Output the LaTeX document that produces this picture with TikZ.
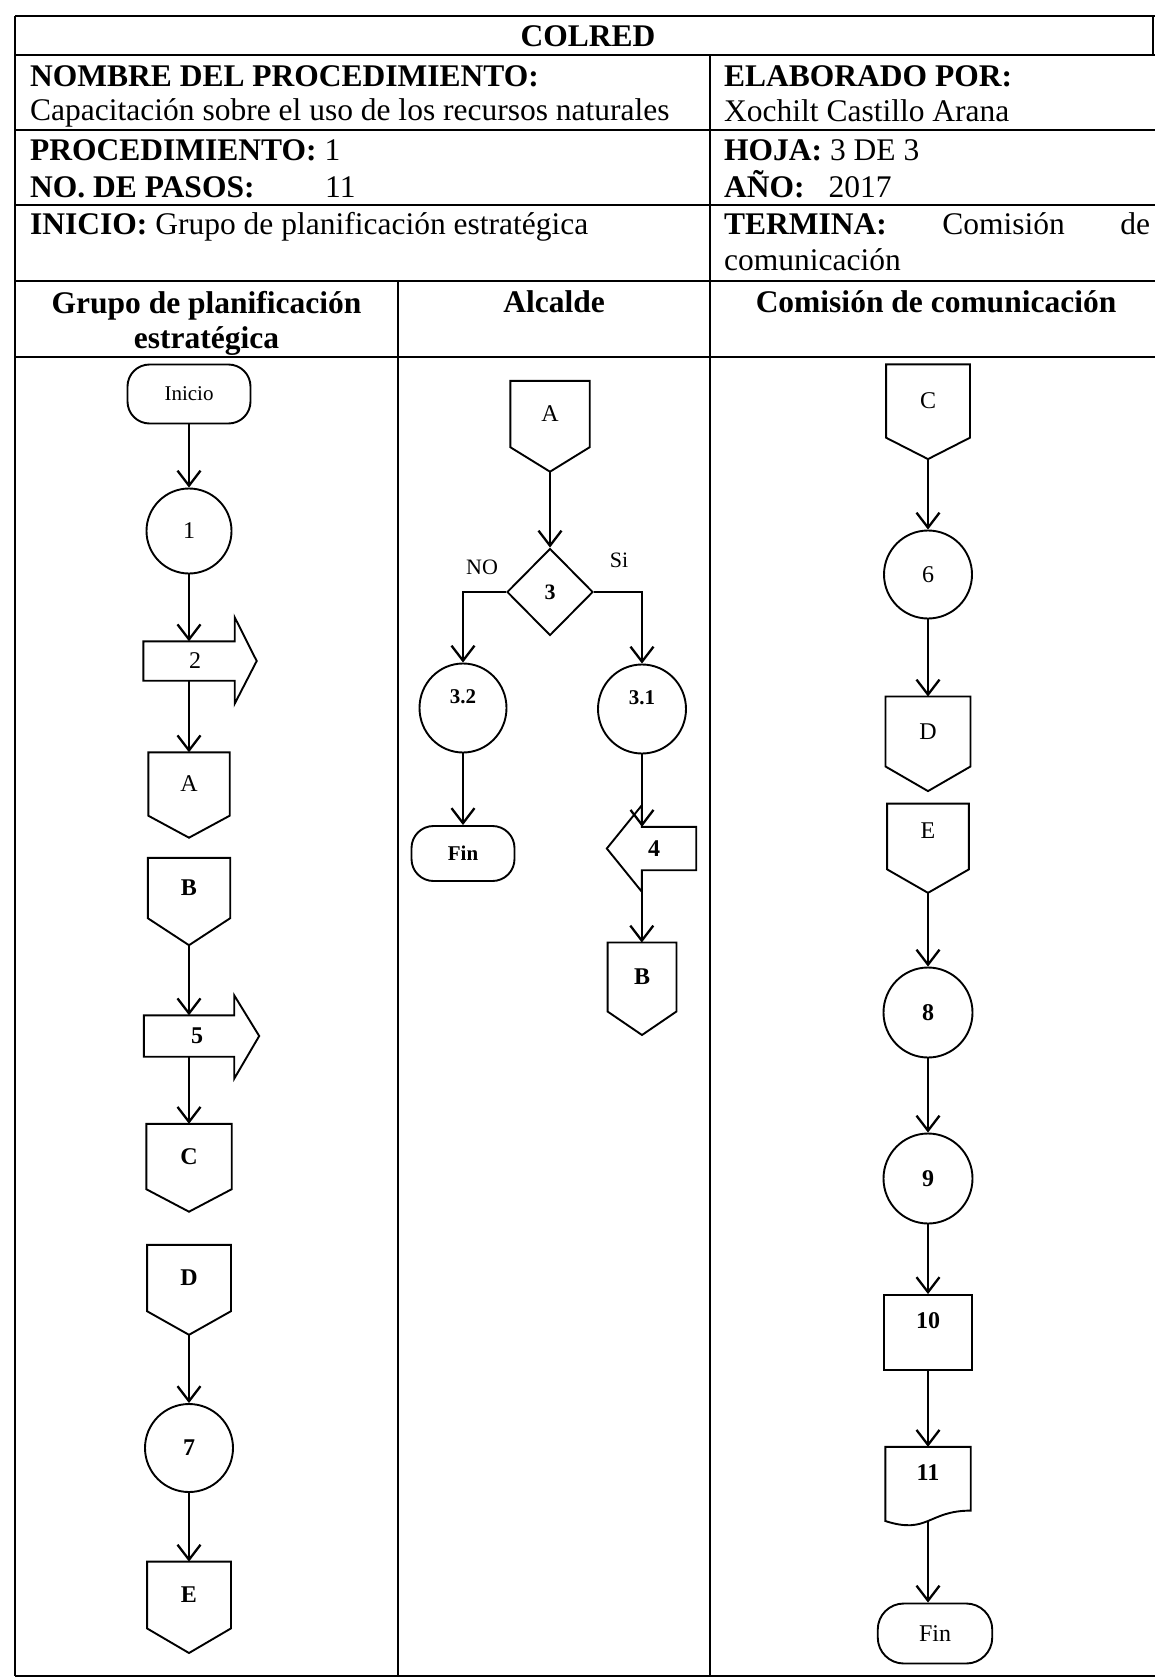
\documentclass[tikz,border=0pt]{standalone}
\usepackage{fontspec}
\setmainfont{Liberation Serif}
\usetikzlibrary{shapes.geometric,arrows.meta,calc}
\newcommand{\offpg}[7]{%
  \node[lbl, minimum width=#5pt, minimum height=#6pt] (#1) at (#2,#3) {#4};
  \draw[shp] (#1.north west) -- (#1.north east) -- (#1.south east)
    -- ($(#1.south)+(0,#7)$) coordinate (#1-tip) -- (#1.south west) -- cycle;}
\begin{document}
\begin{tikzpicture}[x=1pt,y=-1pt,
  tline/.style={line width=2pt},
  shp/.style={draw, line width=1.9pt},
  arr/.style={line width=2.3pt,-{Straight Barb[length=15pt,width=23pt]}},
  lbl/.style={inner sep=0pt, font=\fontsize{24}{26}\selectfont},
  hdr/.style={inner sep=0pt, anchor=base west, font=\fontsize{31.5}{36}\selectfont},
  colh/.style={inner sep=0pt, anchor=base, font=\fontsize{31.5}{36}\selectfont\bfseries},
  term/.style={shp, lbl, rounded corners=22pt},
  circ/.style={shp, lbl, ellipse},
]
\useasboundingbox (0,0) rectangle (1155,1678);
\fill[white] (0,0) rectangle (1155,1678);

% ---------- table ----------
\draw[tline] (15,16.5) -- (1155,16.5);
\draw[tline] (1153,16.5) -- (1153,55);
\draw[tline] (15,55) -- (1155,55);
\draw[tline] (15,130) -- (1155,130);
\draw[tline] (15,205) -- (1155,205);
\draw[tline] (15,281) -- (1155,281);
\draw[tline] (15,357) -- (1155,357);
\draw[tline] (15,1676) -- (1155,1676);
\draw[tline] (15,16.5) -- (15,1676);
\draw[tline] (710,55) -- (710,1676);
\draw[tline] (398,281) -- (398,1676);

% ---------- header texts ----------
\node[hdr, anchor=base, font=\fontsize{31.5}{36}\selectfont\bfseries] (t0) at (588,47) {COLRED};
\node[hdr] (t1) at (30,86) {\textbf{NOMBRE DEL PROCEDIMIENTO:}};
\node[hdr] (t2) at (30,120) {Capacitación sobre el uso de los recursos naturales};
\node[hdr] (t3) at (30,160) {\textbf{PROCEDIMIENTO:} 1};
\node[hdr] (t4) at (30,197) {\textbf{NO. DE PASOS:}};
\node[hdr] (t5) at (325,197) {11};
\node[hdr] (t6) at (30,234) {\textbf{INICIO:} Grupo de planificación estratégica};
\node[hdr] (t7) at (724,86) {\textbf{ELABORADO POR:}};
\node[hdr] (t8) at (724,121) {Xochilt Castillo Arana};
\node[hdr] (t9) at (724,160) {\textbf{HOJA:} 3 DE 3};
\node[hdr] (t10) at (724,197) {\textbf{AÑO:}\hspace{24pt}2017};
\node[hdr] (t11) at (724,234) {\makebox[426pt]{\textbf{TERMINA:}\hfill Comisión\hfill de}};
\node[hdr] (t12) at (724,270) {comunicación};

\node[colh] (g1) at (206.5,313) {Grupo de planificación};
\node[colh] (g2) at (206.5,348) {estratégica};
\node[colh] (g3) at (554,312) {Alcalde};
\node[colh] (g4) at (936,312) {Comisión de comunicación};

% ---------- Grupo de planificacion estrategica ----------
\node[term, minimum width=123pt, minimum height=59pt, font=\fontsize{21}{24}\selectfont] (ini) at (189,394) {Inicio};
\node[circ, minimum width=85pt, minimum height=85pt] (c1) at (189,531) {1};
\node[lbl, minimum width=91pt, minimum height=39pt] (s2) at (189,661) {\hspace*{12pt}2};
\draw[shp] (s2.north west) -- (s2.north east) -- ++(0,-24) -- ($(s2.east)+(22,0)$)
  -- ($(s2.south east)+(0,23)$) -- (s2.south east) -- (s2.south west) -- cycle;
\offpg{a1}{189}{784}{A}{81}{63}{22}
\offpg{b1}{189}{888}{\bfseries B}{82}{60}{27}
\node[lbl, minimum width=90pt, minimum height=41pt] (s5) at (189,1036) {\hspace*{16pt}\bfseries 5};
\draw[shp] (s5.north west) -- (s5.north east) -- ++(0,-20) -- ($(s5.east)+(25,0)$)
  -- ($(s5.south east)+(0,22)$) -- (s5.south east) -- (s5.south west) -- cycle;
\offpg{cc1}{189}{1156.5}{\bfseries C}{85}{65}{22.5}
\offpg{dd1}{189}{1278}{\bfseries D}{83.5}{66}{23.6}
\node[circ, minimum width=88pt, minimum height=88pt] (c7) at (189,1448) {\bfseries 7};
\offpg{ee1}{189}{1595}{\bfseries E}{83.5}{66.4}{24.6}

\draw[arr] (ini.south) -- (c1.north);
\draw[arr] (c1.south) -- (s2.north);
\draw[arr] (s2.south) -- (a1.north);
\draw[arr] (b1-tip) -- (s5.north);
\draw[arr] (s5.south) -- (cc1.north);
\draw[arr] (dd1-tip) -- (c7.north);
\draw[arr] (c7.south) -- (ee1.north);

% ---------- Alcalde ----------
\offpg{a2}{550}{414}{A}{79}{66}{24.5}
\node[shp, lbl, diamond, minimum width=86pt, minimum height=87pt, font=\fontsize{22}{24}\selectfont\bfseries] (d3) at (550,592) {3};
\node[lbl, font=\fontsize{22}{24}\selectfont] (no) at (482,567) {NO};
\node[lbl, font=\fontsize{22}{24}\selectfont] (si) at (619,560) {Si};
\node[circ, minimum width=87pt, minimum height=89pt, font=\fontsize{21}{24}\selectfont] (c32) at (463,708) {\raisebox{22pt}{\bfseries 3.2}};
\node[circ, minimum width=88pt, minimum height=89pt, font=\fontsize{21}{24}\selectfont] (c31) at (642,709) {\raisebox{22pt}{\bfseries 3.1}};
\node[term, minimum width=103pt, minimum height=55pt, font=\fontsize{21}{24}\selectfont\bfseries] (fin1) at (463,853.5) {Fin};
\node[lbl, text width=54pt, minimum height=43pt, align=left] (s4) at (669,848.5) {\hspace*{6pt}\bfseries 4};
\draw[shp] (s4.north west) -- (s4.north east) -- (s4.south east) -- (s4.south west)
  -- ++(0,21.5) -- ($(s4.west)+(-35,0)$) -- ($(s4.north west)+(0,-21.5)$) -- cycle;
\offpg{b2}{642}{977}{\bfseries B}{68.5}{68.6}{23.5}

\draw[arr] (a2-tip) -- (d3.north);
\draw[arr] (d3.west) -| (c32.north);
\draw[arr] (d3.east) -| (c31.north);
\draw[arr] (c32.south) -- (fin1.north);
\draw[arr] (c31.south) -- (c31.south |- s4.north);
\draw[arr] (s4.south west) -- (s4.south west |- b2.north);

% ---------- Comision de comunicacion ----------
\offpg{cc3}{928}{401}{C}{83.5}{73}{21.4}
\node[circ, minimum width=88pt, minimum height=88pt] (c6) at (928,574.5) {6};
\offpg{dd3}{928}{731.5}{D}{84.6}{69.6}{24.6}
\offpg{ee3}{928}{836.5}{\raisebox{12pt}{E}}{81.4}{65.3}{23.5}
\node[circ, minimum width=89pt, minimum height=90pt] (c8) at (928,1012.5) {\bfseries 8};
\node[circ, minimum width=89pt, minimum height=90pt] (c9) at (928,1178.5) {\bfseries 9};
\node[shp, lbl, minimum width=88pt, minimum height=75pt] (r10) at (928,1332.5) {\raisebox{23.6pt}{\bfseries 10}};
\node[lbl, minimum width=85pt, minimum height=63.4pt] (r11) at (928,1478.7) {\raisebox{11.6pt}{\bfseries 11}};
\draw[shp] (r11.north west) -- (r11.north east) -- (r11.south east)
  .. controls (r11.south) and ($(r11.south)+(0,24.2)$) .. ($(r11.south west)+(0,10.4)$) -- cycle;
\node[term, minimum width=114.5pt, minimum height=60pt, rounded corners=26pt, font=\fontsize{24}{26}\selectfont] (fin2) at (935,1633.5) {Fin};

\draw[arr] (cc3-tip) -- (c6.north);
\draw[arr] (c6.south) -- (dd3.north);
\draw[arr] (ee3-tip) -- (c8.north);
\draw[arr] (c8.south) -- (c9.north);
\draw[arr] (c9.south) -- (r10.north);
\draw[arr] (r10.south) -- (r11.north);
\draw[arr] ($(r11.south)+(0,10.4)$) -- (r11.south |- fin2.north);
\end{tikzpicture}
\end{document}
